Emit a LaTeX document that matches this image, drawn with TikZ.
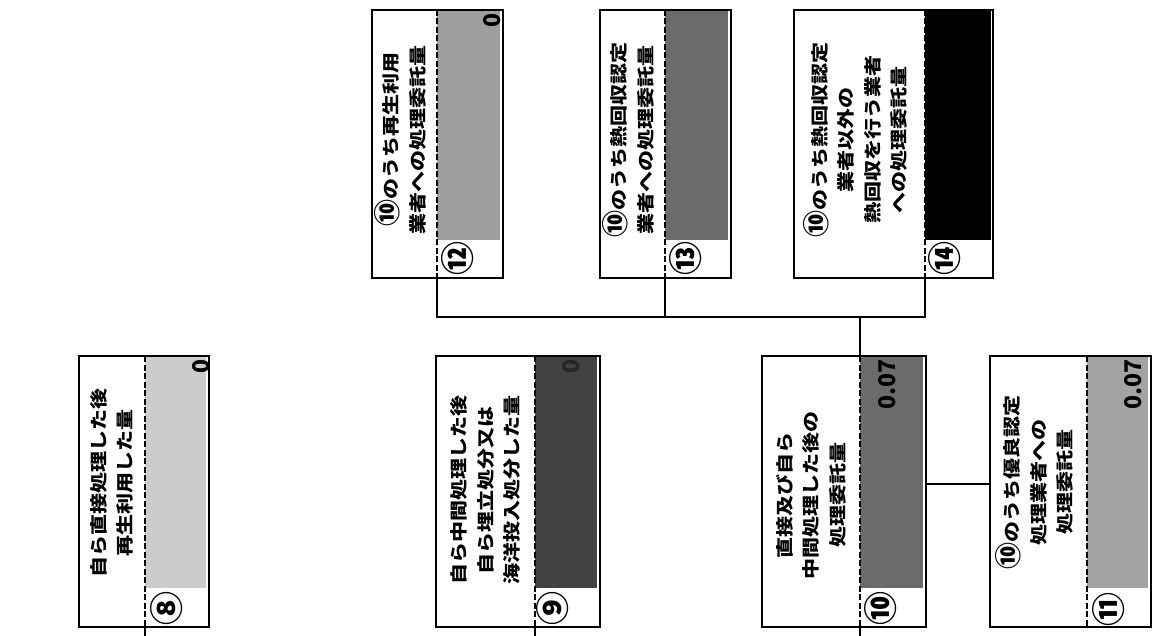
\documentclass[tikz,border=0pt]{standalone}
\usepackage{fontspec}
\newfontfamily\jpfont{Noto Sans CJK JP}[FakeStretch=1.2]
\newfontfamily\numfont{Noto Sans CJK JP}
\usetikzlibrary{positioning}

\definecolor{shadeA}{gray}{0.80}
\definecolor{shadeB}{gray}{0.26}
\definecolor{shadeC}{gray}{0.42}
\definecolor{shadeD}{gray}{0.64}
\definecolor{shadeE}{gray}{0.62}
\definecolor{shadeF}{gray}{0.42}

% circled ten inside the labels
\newcommand{\inten}{\smash{\numfont\bfseries\fontsize{27}{27}\selectfont ⑩}}

\tikzset{
  frame/.style={draw, line width=2.6pt, inner sep=0pt},
  split line/.style={dash pattern=on 6pt off 2.5pt, line width=2.4pt},
  link/.style={line width=2.2pt},
  label text/.style={rotate=90, align=center, inner sep=0pt,
    font=\jpfont\bfseries\fontsize{17.5}{26.5}\selectfont},
  value text/.style={rotate=90, anchor=east, inner sep=0pt,
    font=\numfont\bfseries\fontsize{23}{23}\selectfont},
  circ num/.style={rotate=90, inner sep=0pt, font=\numfont\bfseries\fontsize{34}{34}\selectfont},
}

\begin{document}
\begin{tikzpicture}[x=1pt, y=-1pt]
\useasboundingbox (0,0) rectangle (1153,636);

% lower row
\fill[shadeA] (145,356) rectangle (206,588);
\node[frame, minimum width=130pt, minimum height=271pt] (b8) at (144,491.5) {};
\draw[split line] (145,356) -- (145,627) coordinate (d8);
\node[label text] (t8) at (112,483) {自ら直接処理した後\\再生利用した量};
\node[value text] (v8) at (201,359) {0};
\node[circ num] (n8) at (167,608) {⑧};

\fill[shadeB] (535,356) rectangle (597,588);
\node[frame, minimum width=164pt, minimum height=271pt] (b9) at (518,491.5) {};
\draw[split line] (535,356) -- (535,627) coordinate (d9);
\node[label text] (t9) at (485.5,490) {自ら中間処理した後\\自ら埋立処分又は\\海洋投入処分した量};
\node[value text, text=black!85] (v9) at (571,359) {0};
\node[circ num] (n9) at (553,608) {⑨};

\fill[shadeC] (860,356) rectangle (923,588);
\node[frame, minimum width=164pt, minimum height=271pt] (b10) at (844,491.5) {};
\draw[split line] (860,356) coordinate (d10t) -- (860,627) coordinate (d10);
\node[label text] (t10) at (811,495) {直接及び自ら\\中間処理した後の\\処理委託量};
\node[value text] (v10) at (887,359) {0.07};
\node[circ num] (n10) at (881,608) {⑩};

\fill[shadeD] (1087,356) rectangle (1148,588);
\node[frame, minimum width=161pt, minimum height=271pt] (b11) at (1070.5,491.5) {};
\draw[split line] (1087,356) -- (1087,627);
\node[label text] (t11) at (1038.5,482) {\inten のうち優良認定\\処理業者への\\処理委託量};
\node[value text] (v11) at (1133,359) {0.07};
\node[circ num] (n11) at (1109,609) {⑪};

% upper row
\fill[shadeE] (437,10) rectangle (500,240);
\node[frame, minimum width=131pt, minimum height=268pt] (b12) at (437.5,144) {};
\draw[split line] (437,10) -- (437,278) coordinate (d12);
\node[label text] (t12) at (404.5,140) {\inten のうち再生利用\\業者への処理委託量};
\node[value text] (v12) at (492,13) {0};
\node[circ num] (n12) at (458,259) {⑫};

\fill[shadeF] (665,10) rectangle (728,240);
\node[frame, minimum width=131pt, minimum height=268pt] (b13) at (665.5,144) {};
\draw[split line] (665,10) -- (665,278) coordinate (d13);
\node[label text] (t13) at (632.5,140) {\inten のうち熱回収認定\\業者への処理委託量};
\node[circ num] (n13) at (686,259) {⑬};

\fill[black] (925,10) rectangle (991,240);
\node[frame, minimum width=199pt, minimum height=268pt] (b14) at (893.5,144) {};
\draw[split line] (925,10) -- (925,278) coordinate (d14);
\node[label text] (t14) at (859.5,140) {\inten のうち熱回収認定\\業者以外の\\熱回収を行う業者\\への処理委託量};
\node[circ num] (n14) at (945,259) {⑭};

% connectors
\coordinate (bus) at (860,317);
\draw[link] (d12) |- (bus) -| (d14);
\draw[link] (d13) -- (d13 |- bus);
\draw[link] (bus) -- (d10t);
\draw[link] (b10.east |- 0,484) -- (b11.west |- 0,484);
\draw[link] (d8) -- (145,636) coordinate (e8);
\draw[link] (d9) -- (535,636) coordinate (e9);
\draw[link] (d10) -- (860,636) coordinate (e10);
\end{tikzpicture}
\end{document}
